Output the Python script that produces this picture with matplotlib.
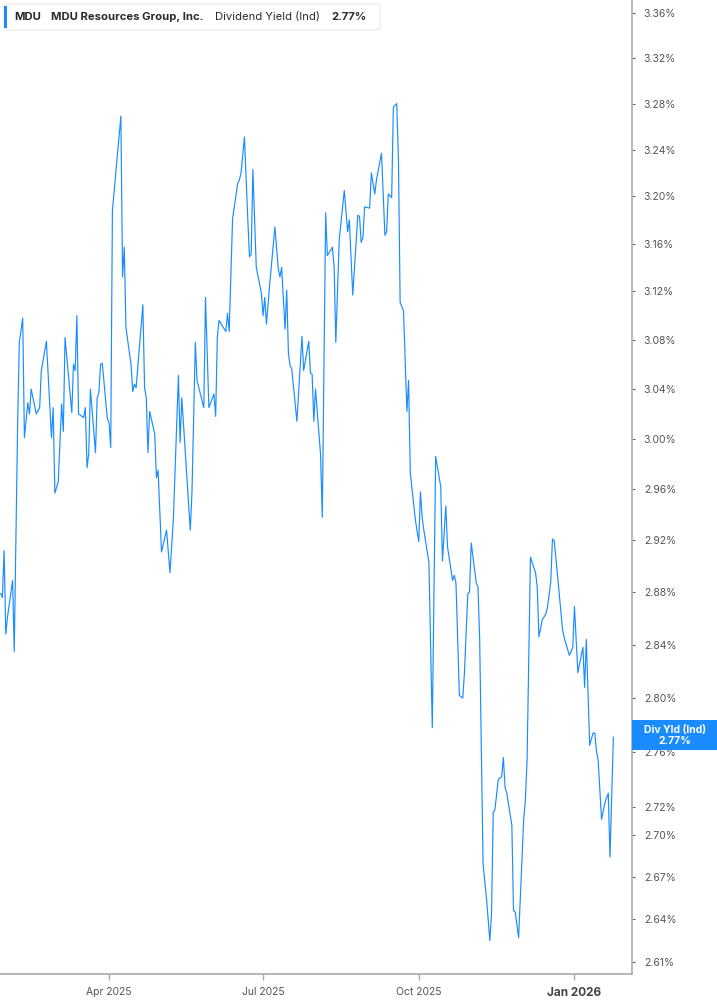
import matplotlib
matplotlib.use("Agg")
import matplotlib.pyplot as plt
from matplotlib.patches import Rectangle, FancyBboxPatch
from matplotlib.ticker import FixedLocator, NullLocator, FuncFormatter
import pandas as pd

plt.rcParams['font.family'] = ['Inter', 'DejaVu Sans']

# MDU dividend yield (indicated)
dates = [
    "2025-01-27", "2025-01-28", "2025-01-29", "2025-01-30", "2025-01-31", "2025-02-03", "2025-02-04",
    "2025-02-06", "2025-02-07", "2025-02-09", "2025-02-10", "2025-02-12", "2025-02-13", "2025-02-14",
    "2025-02-17", "2025-02-19", "2025-02-20", "2025-02-23", "2025-02-26", "2025-02-27", "2025-02-28",
    "2025-03-02", "2025-03-04", "2025-03-05", "2025-03-06", "2025-03-10", "2025-03-11", "2025-03-12",
    "2025-03-13", "2025-03-14", "2025-03-17", "2025-03-18", "2025-03-19", "2025-03-20", "2025-03-21",
    "2025-03-24", "2025-03-25", "2025-03-26", "2025-03-27", "2025-03-28", "2025-03-31", "2025-04-01",
    "2025-04-02", "2025-04-03", "2025-04-08", "2025-04-09", "2025-04-10", "2025-04-11", "2025-04-14",
    "2025-04-15", "2025-04-16", "2025-04-17", "2025-04-21", "2025-04-22", "2025-04-23", "2025-04-24",
    "2025-04-25", "2025-04-28", "2025-04-29", "2025-04-30", "2025-05-02", "2025-05-05", "2025-05-07",
    "2025-05-09", "2025-05-12", "2025-05-13", "2025-05-14", "2025-05-19", "2025-05-20", "2025-05-22",
    "2025-05-23", "2025-05-27", "2025-05-28", "2025-05-30", "2025-06-02", "2025-06-03", "2025-06-04",
    "2025-06-05", "2025-06-09", "2025-06-10", "2025-06-11", "2025-06-13", "2025-06-16", "2025-06-17",
    "2025-06-18", "2025-06-20", "2025-06-22", "2025-06-23", "2025-06-24", "2025-06-25", "2025-06-27",
    "2025-06-30", "2025-07-01", "2025-07-02", "2025-07-03", "2025-07-05", "2025-07-08", "2025-07-10",
    "2025-07-11", "2025-07-12", "2025-07-14", "2025-07-15", "2025-07-16", "2025-07-17", "2025-07-18",
    "2025-07-21", "2025-07-24", "2025-07-25", "2025-07-28", "2025-07-29", "2025-07-30", "2025-07-31",
    "2025-08-01", "2025-08-04", "2025-08-05", "2025-08-07", "2025-08-08", "2025-08-11", "2025-08-12",
    "2025-08-13", "2025-08-15", "2025-08-18", "2025-08-20", "2025-08-21", "2025-08-23", "2025-08-26",
    "2025-08-27", "2025-08-28", "2025-08-29", "2025-08-30", "2025-09-02", "2025-09-03", "2025-09-05",
    "2025-09-06", "2025-09-09", "2025-09-11", "2025-09-12", "2025-09-13", "2025-09-15", "2025-09-16",
    "2025-09-18", "2025-09-19", "2025-09-20", "2025-09-22", "2025-09-24", "2025-09-25", "2025-09-26",
    "2025-09-29", "2025-10-01", "2025-10-02", "2025-10-03", "2025-10-04", "2025-10-07", "2025-10-09",
    "2025-10-11", "2025-10-14", "2025-10-15", "2025-10-17", "2025-10-18", "2025-10-21", "2025-10-22",
    "2025-10-23", "2025-10-25", "2025-10-27", "2025-10-28", "2025-10-30", "2025-10-31", "2025-11-01",
    "2025-11-04", "2025-11-05", "2025-11-06", "2025-11-08", "2025-11-10", "2025-11-12", "2025-11-13",
    "2025-11-14", "2025-11-15", "2025-11-17", "2025-11-19", "2025-11-20", "2025-11-21", "2025-11-22",
    "2025-11-25", "2025-11-26", "2025-11-27", "2025-11-29", "2025-12-02", "2025-12-03", "2025-12-04",
    "2025-12-06", "2025-12-09", "2025-12-10", "2025-12-11", "2025-12-13", "2025-12-15", "2025-12-16",
    "2025-12-18", "2025-12-19", "2025-12-20", "2025-12-22", "2025-12-25", "2025-12-26", "2025-12-29",
    "2025-12-31", "2026-01-01", "2026-01-03", "2026-01-06", "2026-01-07", "2026-01-08", "2026-01-10",
    "2026-01-12", "2026-01-13", "2026-01-14", "2026-01-15", "2026-01-17", "2026-01-19", "2026-01-21",
    "2026-01-22", "2026-01-24",
]
yields = [
    2.879, 2.876, 2.912, 2.848, 2.861, 2.889, 2.835,
    3.012, 3.078, 3.098, 3.001, 3.029, 3.020, 3.040,
    3.020, 3.025, 3.055, 3.079, 3.001, 3.025, 2.957,
    2.966, 3.028, 3.006, 3.082, 3.021, 3.060, 3.055,
    3.100, 3.020, 3.017, 3.025, 2.977, 2.988, 3.040,
    2.989, 3.033, 3.037, 3.060, 3.061, 3.016, 3.013,
    2.993, 3.188, 3.269, 3.132, 3.157, 3.090, 3.060,
    3.038, 3.044, 3.041, 3.109, 3.041, 3.033, 2.989,
    3.022, 3.004, 2.969, 2.975, 2.911, 2.928, 2.895,
    2.936, 3.051, 2.997, 3.033, 2.928, 2.957, 3.078,
    3.047, 3.025, 3.115, 3.025, 3.036, 3.018, 3.083,
    3.096, 3.087, 3.102, 3.087, 3.181, 3.211, 3.214,
    3.220, 3.251, 3.180, 3.149, 3.151, 3.223, 3.140,
    3.119, 3.100, 3.115, 3.093, 3.127, 3.174, 3.139,
    3.132, 3.140, 3.089, 3.121, 3.069, 3.059, 3.056,
    3.014, 3.083, 3.055, 3.079, 3.053, 3.052, 3.014,
    3.040, 2.987, 2.938, 3.186, 3.150, 3.157, 3.140,
    3.078, 3.163, 3.205, 3.170, 3.180, 3.117, 3.184,
    3.183, 3.161, 3.165, 3.191, 3.190, 3.220, 3.202,
    3.214, 3.237, 3.167, 3.170, 3.202, 3.199, 3.277,
    3.280, 3.232, 3.111, 3.104, 3.022, 3.047, 2.973,
    2.936, 2.919, 2.958, 2.938, 2.928, 2.903, 2.778,
    2.986, 2.962, 2.904, 2.947, 2.915, 2.889, 2.893,
    2.887, 2.802, 2.800, 2.819, 2.879, 2.880, 2.918,
    2.887, 2.884, 2.844, 2.679, 2.655, 2.625, 2.644,
    2.716, 2.718, 2.740, 2.742, 2.756, 2.734, 2.730,
    2.707, 2.646, 2.645, 2.627, 2.711, 2.725, 2.754,
    2.907, 2.895, 2.884, 2.846, 2.859, 2.863, 2.868,
    2.888, 2.921, 2.920, 2.893, 2.851, 2.845, 2.832,
    2.838, 2.869, 2.819, 2.838, 2.808, 2.844, 2.765,
    2.774, 2.774, 2.761, 2.754, 2.711, 2.723, 2.730,
    2.684, 2.771,
]

y_ticks = [2.61, 2.64, 2.67, 2.70, 2.72, 2.76, 2.80, 2.84, 2.88, 2.92, 2.96,
           3.00, 3.04, 3.08, 3.12, 3.16, 3.20, 3.24, 3.28, 3.32, 3.36]
x_tick_dates = ["2025-04-01", "2025-07-01", "2025-10-01", "2026-01-01"]
x_tick_labels = ["Apr 2025", "Jul 2025", "Oct 2025", "Jan 2026"]

line_color = '#1a8cff'
x = pd.to_datetime(dates)

fig = plt.figure(figsize=(7.17, 10.05), dpi=100)
ax = fig.add_axes([0, 31 / 1005, 632 / 717, 974 / 1005])

ax.plot(x, yields, color=line_color, lw=0.85)

# log scale y axis on the right
ax.set_yscale('log')
ax.set_ylim(2.6017, 3.3717)
ax.yaxis.set_major_locator(FixedLocator(y_ticks))
ax.yaxis.set_minor_locator(NullLocator())
ax.yaxis.set_major_formatter(FuncFormatter(lambda v, _: f"{v:.2f}%"))
ax.yaxis.tick_right()
ax.tick_params(axis='y', which='major', length=2.5, width=0.8, color='#666',
               pad=6, labelsize=7.5, labelcolor='#555')

ax.set_xlim(pd.Timestamp("2025-01-26 14:00"), pd.Timestamp("2026-02-04"))
ax.set_xticks(pd.to_datetime(x_tick_dates))
ax.set_xticklabels(x_tick_labels)
ax.tick_params(axis='x', length=4, width=1, color='#aaa', pad=5,
               labelsize=7.5, labelcolor='#555')
last_lbl = ax.get_xticklabels()[-1]
last_lbl.set_fontweight('bold')
last_lbl.set_color('#444')
last_lbl.set_fontsize(8.5)

for side in ['left', 'top']:
    ax.spines[side].set_visible(False)
for side in ['right', 'bottom']:
    ax.spines[side].set_color('#aaa')
    ax.spines[side].set_linewidth(1.2)

# header box
fig.patches.append(FancyBboxPatch((4 / 717, 1 - 30 / 1005), 376 / 717, 26 / 1005,
                                  boxstyle="round,pad=0,rounding_size=0.004",
                                  transform=fig.transFigure, facecolor='white',
                                  edgecolor='#e6e6e6', lw=0.8))
fig.patches.append(Rectangle((4 / 717, 1 - 28 / 1005), 3 / 717, 22 / 1005,
                             transform=fig.transFigure, facecolor=line_color,
                             edgecolor='none'))
ty = 1 - 17 / 1005
hdr = dict(fontsize=8.1, color='#2a2a2a', va='center')
fig.text(14 / 717, ty, "MDU", fontweight='bold', **hdr)
fig.text(51 / 717, ty, "MDU Resources Group, Inc.", fontweight='bold', **hdr)
fig.text(215 / 717, ty, "Dividend Yield (Ind)", **hdr)
fig.text(331 / 717, ty, "2.77%", fontweight='bold', **hdr)

# last value label on the right axis
last = yields[-1]
disp = ax.transData.transform((ax.get_xlim()[1], last))
_, yf = fig.transFigure.inverted().transform(disp)
box_h = 30 / 1005
fig.patches.append(Rectangle((632 / 717, yf - box_h / 2 + 2 / 1005), 85 / 717, box_h,
                             transform=fig.transFigure, facecolor=line_color,
                             edgecolor='none', zorder=5))
fig.text(675 / 717, yf + 2 / 1005, f"Div Yld (Ind)\n{last:.2f}%", fontsize=7.5,
         fontweight='bold', color='white', ha='center', va='center',
         linespacing=1.1, zorder=6)

fig.savefig("out.png", dpi=100, facecolor='white')
